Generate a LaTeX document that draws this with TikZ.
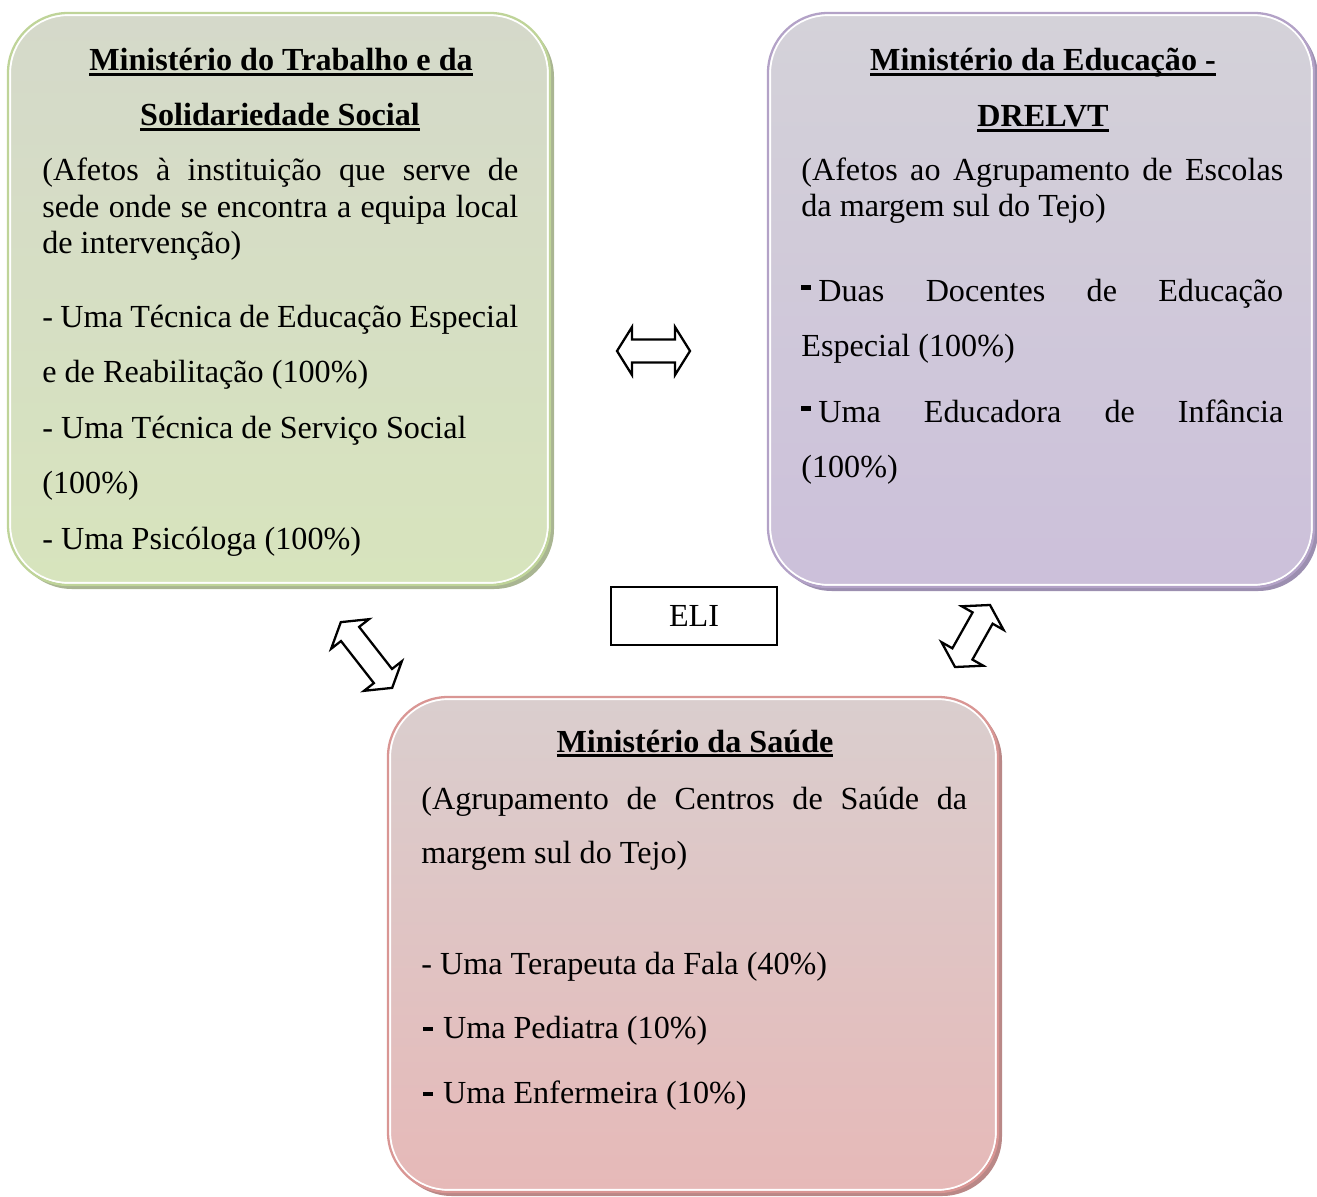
\documentclass[tikz,border=0pt]{standalone}
\usepackage{fontspec}
\setmainfont{Liberation Serif}
\usetikzlibrary{positioning}

\definecolor{gtop}{HTML}{D5D9CA}
\definecolor{gbot}{HTML}{D7E4BD}
\definecolor{gline}{HTML}{BFD499}
\definecolor{gshade}{HTML}{A9B592}
\definecolor{ptop}{HTML}{D4D2D9}
\definecolor{pbot}{HTML}{CCC0DA}
\definecolor{pline}{HTML}{B3A2C7}
\definecolor{pshade}{HTML}{9C8FB0}
\definecolor{rtop}{HTML}{DACECE}
\definecolor{rbot}{HTML}{E6B9B8}
\definecolor{rline}{HTML}{D99694}
\definecolor{rshade}{HTML}{B98887}

\newcommand{\bodysize}{\fontsize{18.3}{21}\selectfont}
\newcommand{\ulin}[1]{\setbox0\hbox{#1}\rlap{\rule[-2.6pt]{\wd0}{1.5pt}}\box0}
\newcommand{\jline}[2]{\makebox[#1][s]{#2}}
\newcommand{\hidash}{\rule[6.5pt]{5.7pt}{2.6pt}}
\newcommand{\lodash}{\rule[4pt]{5.7pt}{2.3pt}}

\tikzset{
  box/.style={rounded corners=1.2cm},
  inbox/.style={rounded corners=1.16cm, draw=white, line width=1.2pt},
  txt/.style={anchor=base west, inner sep=0pt, font=\bodysize},
  ttl/.style={anchor=base, inner sep=0pt, font=\bodysize\bfseries},
  blkarrow/.style={draw=black, line width=1.3pt, fill=white, line join=miter},
  pics/dblarrow/.style={code={
    \draw[blkarrow] (-#1,0) -- (-#1+15,-24) -- (-#1+15,-11.5) -- (#1-15,-11.5)
      -- (#1-15,-24) -- (#1,0) -- (#1-15,24) -- (#1-15,11.5) -- (-#1+15,11.5)
      -- (-#1+15,24) -- cycle;
  }},
}

\begin{document}
\begin{tikzpicture}[x=0.02cm, y=-0.02cm]
  \useasboundingbox (0,0) rectangle (1317,1196);
  \clip (0,0) rectangle (1317,1196);

  % Trabalho box
  \fill[box, gshade] (12,17) rectangle (554,589);
  \shade[inbox, top color=gtop, bottom color=gbot] (10,15) rectangle (548,583);
  \draw[box, gline, line width=1.3pt] (8,13) rectangle (550,585);

  % Educacao box
  \fill[box, pshade] (772,17) rectangle (1318,591);
  \shade[inbox, top color=ptop, bottom color=pbot] (770,15) rectangle (1312,585);
  \draw[box, pline, line width=1.3pt] (768,13) rectangle (1314,587);

  % Saude box
  \fill[box, rshade] (392,701) rectangle (1002,1196);
  \shade[inbox, top color=rtop, bottom color=rbot] (390,699) rectangle (996,1190);
  \draw[box, rline, line width=1.3pt] (388,697) rectangle (998,1192);

  % Labels
  \node[ttl] (t1) at (281,71) {\ulin{Ministério do Trabalho e da}};
  \node[ttl] (t2) at (280,126) {\ulin{Solidariedade Social}};
  \node[txt] (t3) at (42,180) {\jline{9.52cm}{(Afetos à instituição que serve de}};
  \node[txt] (t4) at (42,217) {\jline{9.52cm}{sede onde se encontra a equipa local}};
  \node[txt] (t5) at (42,253) {de intervenção)};
  \node[txt] (t6) at (42,327) {\jline{9.52cm}{- Uma Técnica de Educação Especial}};
  \node[txt] (t7) at (42,382) {e de Reabilitação (100\%)};
  \node[txt] (t8) at (42,438) {- Uma Técnica de Serviço Social};
  \node[txt] (t9) at (42,493) {(100\%)};
  \node[txt] (t10) at (42,549) {- Uma Psicóloga (100\%)};

  \node[ttl] (e1) at (1043,71) {\ulin{Ministério da Educação -}};
  \node[ttl] (e2) at (1043,127) {\ulin{DRELVT}};
  \node[txt] (e3) at (801,180) {\jline{9.64cm}{(Afetos ao Agrupamento de Escolas}};
  \node[txt] (e4) at (801,216) {da margem sul do Tejo)};
  \node[txt] (e5) at (801,301) {\jline{9.64cm}{\hidash\kern4pt Duas Docentes de Educação}};
  \node[txt] (e6) at (801,356) {Especial (100\%)};
  \node[txt] (e7) at (801,422) {\jline{9.64cm}{\hidash\kern4pt Uma Educadora de Infância}};
  \node[txt] (e8) at (801,477) {(100\%)};

  \node[ttl] (s1) at (695,752) {\ulin{Ministério da Saúde}};
  \node[txt] (s2) at (421,809) {\jline{10.92cm}{(Agrupamento de Centros de Saúde da}};
  \node[txt] (s3) at (421,863) {margem sul do Tejo)};
  \node[txt] (s4) at (421,974) {- Uma Terapeuta da Fala (40\%)};
  \node[txt] (s5) at (423,1038) {\lodash\kern5.5pt Uma Pediatra (10\%)};
  \node[txt] (s6) at (423,1103) {\lodash\kern5.5pt Uma Enfermeira (10\%)};

  % ELI
  \node[draw, line width=0.8pt, fill=white, minimum width=3.32cm, minimum height=1.16cm,
    font=\bodysize] (eli) at (694,616) {ELI};

  % Arrows
  \pic at (653.5,351) {dblarrow=36.5};
  \pic[rotate=-52] at (366.5,655) {dblarrow=41.7};
  \pic[rotate=60.6] at (972.5,636) {dblarrow=35.6};
\end{tikzpicture}
\end{document}
